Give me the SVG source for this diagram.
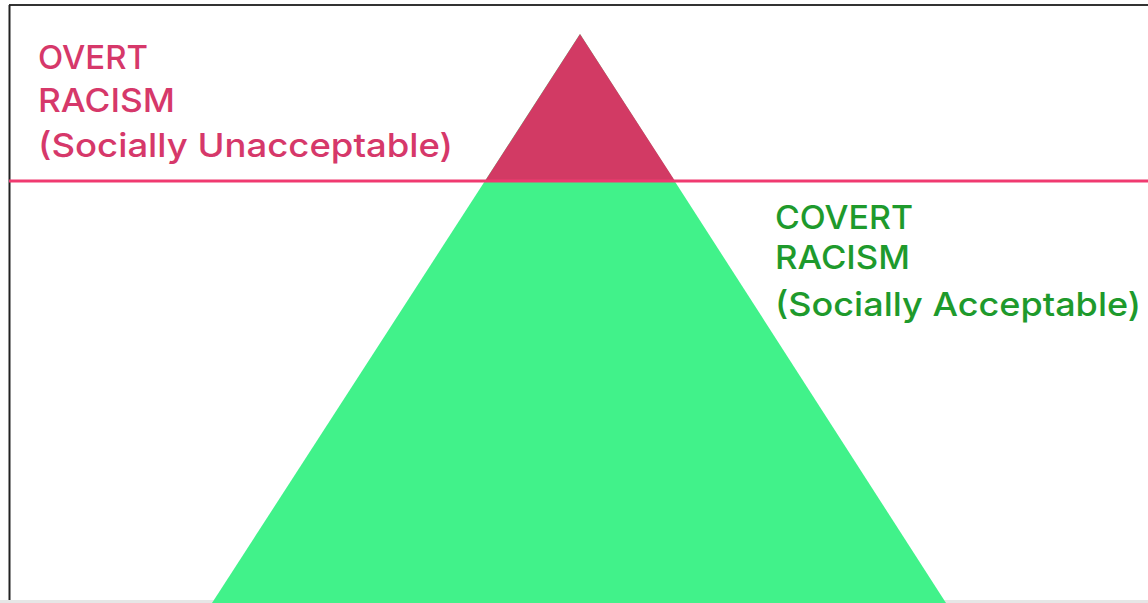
<svg xmlns="http://www.w3.org/2000/svg" width="1148" height="603" viewBox="0 0 1148 603">
<style>
.lbl{font-family:Inter,"Open Sans","Liberation Sans",sans-serif;font-size:33px;font-weight:500}
.pink{fill:#D6386A}
.green{fill:#1E9A2C}
</style>
<rect x="0" y="0" width="1148" height="603" fill="#ffffff"/>
<g id="frame">
<line x1="9" y1="5" x2="1148" y2="5" stroke="#333" stroke-width="2"/>
<line x1="9.5" y1="5" x2="9.5" y2="603" stroke="#222" stroke-width="2"/>
<line x1="0" y1="601.5" x2="1148" y2="601.5" stroke="#e6e6e6" stroke-width="3"/>
</g>
<g id="covert-pyramid">
<polygon points="580,34 946,603 212,603" fill="#41F28A"/>
</g>
<g id="overt-tip">
<polygon points="580,34 675,181 485,181" fill="#D23A64"/>
</g>
<g id="connectors">
<line x1="9" y1="181" x2="1148" y2="181" stroke="#F03A70" stroke-width="3"/>
</g>
<g id="overt-label">
<text class="lbl pink" x="38" y="69" textLength="110" lengthAdjust="spacingAndGlyphs">OVERT</text>
<text class="lbl pink" x="38" y="112" textLength="137" lengthAdjust="spacingAndGlyphs">RACISM</text>
<text class="lbl pink" x="38" y="157" textLength="415" lengthAdjust="spacingAndGlyphs">(Socially Unacceptable)</text>
</g>
<g id="covert-label">
<text class="lbl green" x="775" y="229" textLength="138" lengthAdjust="spacingAndGlyphs">COVERT</text>
<text class="lbl green" x="775" y="269" textLength="135" lengthAdjust="spacingAndGlyphs">RACISM</text>
<text class="lbl green" x="775" y="316" textLength="366" lengthAdjust="spacingAndGlyphs">(Socially Acceptable)</text>
</g>
</svg>
